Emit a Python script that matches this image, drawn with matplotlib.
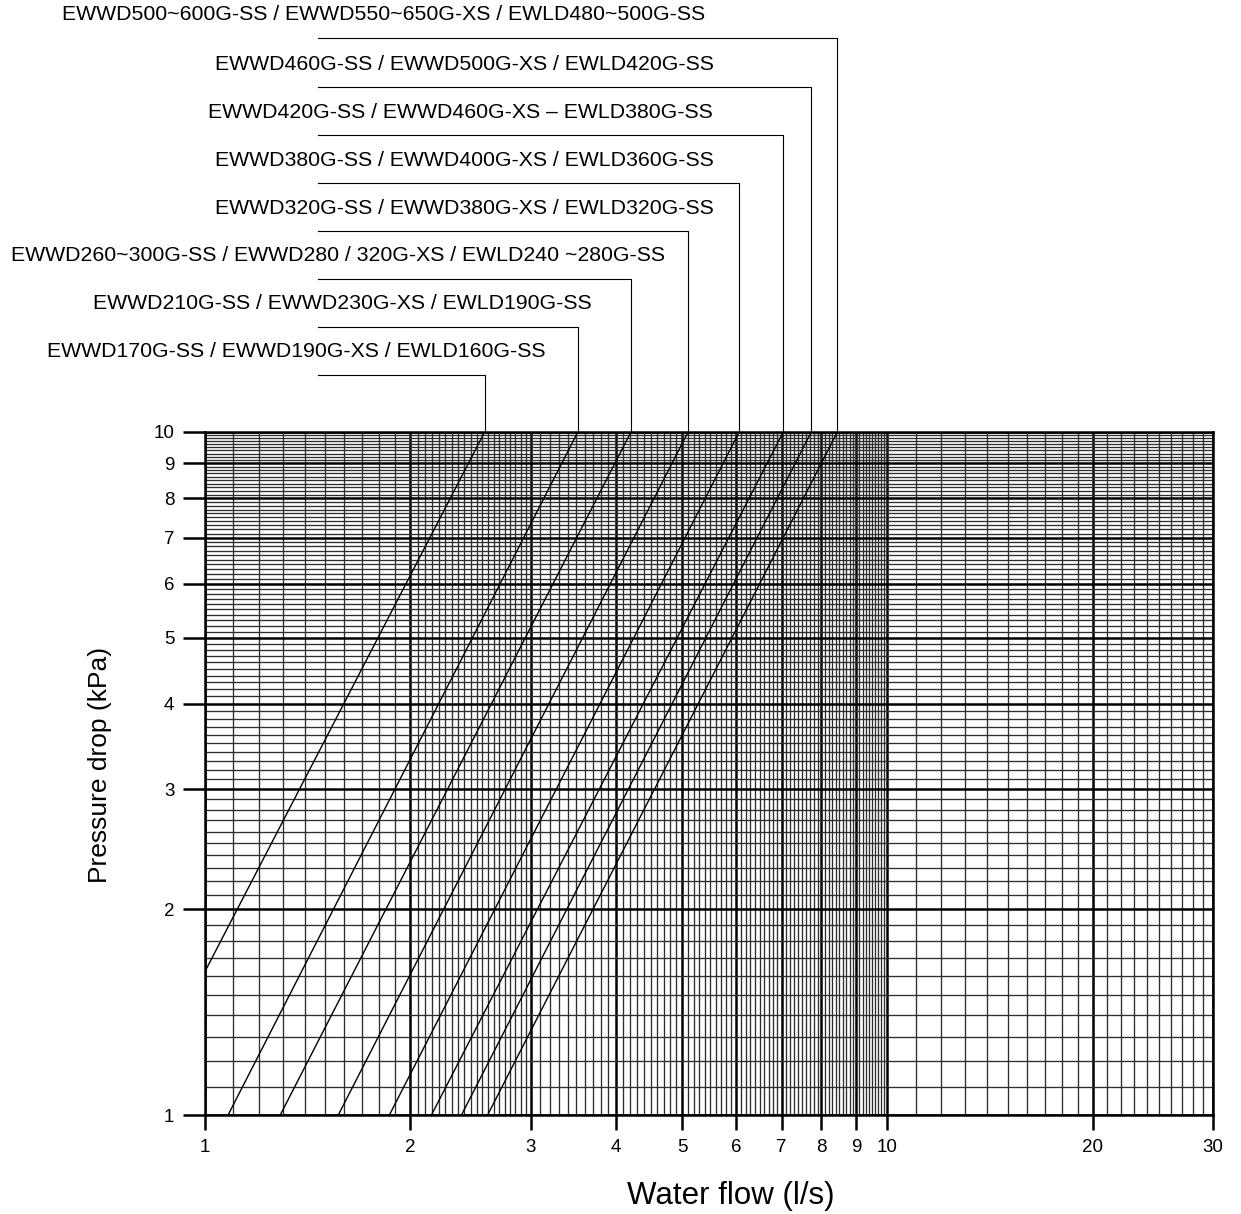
import matplotlib.pyplot as plt
from matplotlib.ticker import FixedLocator, NullFormatter
import numpy as np

plt.rcParams['font.family'] = ['Liberation Sans', 'DejaVu Sans']

# model groups (bottom label = leftmost curve)
models = [
    'EWWD170G-SS / EWWD190G-XS / EWLD160G-SS',
    'EWWD210G-SS / EWWD230G-XS / EWLD190G-SS',
    'EWWD260~300G-SS / EWWD280 / 320G-XS / EWLD240 ~280G-SS',
    'EWWD320G-SS / EWWD380G-XS / EWLD320G-SS',
    'EWWD380G-SS / EWWD400G-XS / EWLD360G-SS',
    'EWWD420G-SS / EWWD460G-XS \u2013 EWLD380G-SS',
    'EWWD460G-SS / EWWD500G-XS / EWLD420G-SS',
    'EWWD500~600G-SS / EWWD550~650G-XS / EWLD480~500G-SS',
]
# water flow (l/s) read at 1 kPa and at 10 kPa
flow_at_1kpa = [0.778, 1.081, 1.289, 1.568, 1.863, 2.147, 2.376, 2.595]
flow_at_10kpa = [2.569, 3.518, 4.209, 5.103, 6.064, 7.036, 7.733, 8.446]
pressure_ends = [1, 10]

x_ticks = [1, 2, 3, 4, 5, 6, 7, 8, 9, 10, 20, 30]
y_ticks = [1, 2, 3, 4, 5, 6, 7, 8, 9, 10]

W, H = 1241, 1214
fig = plt.figure(figsize=(W / 100, H / 100), dpi=100)
ax = fig.add_axes([205 / W, 1 - 1115 / H, 1008 / W, 683 / H])
ax.set_xscale('log')
ax.set_yscale('log')
ax.set_xlim(1, 30)
ax.set_ylim(1, 10)

# graph paper grid
def steps(a, b, s):
    v = np.round(np.arange(a, b + s / 2, s), 3)
    return [t for t in v if not np.isclose(t, np.round(t))]

x_minor = steps(1, 2, 0.1) + steps(2, 3, 0.05) + steps(3, 10, 0.1) + [t for t in range(11, 30) if t != 20]
y_minor = steps(1, 10, 0.1)

ax.xaxis.set_major_locator(FixedLocator(x_ticks))
ax.yaxis.set_major_locator(FixedLocator(y_ticks))
ax.xaxis.set_minor_locator(FixedLocator(x_minor))
ax.yaxis.set_minor_locator(FixedLocator(y_minor))
ax.xaxis.set_minor_formatter(NullFormatter())
ax.yaxis.set_minor_formatter(NullFormatter())
ax.set_xticklabels([str(t) for t in x_ticks])
ax.set_yticklabels([str(t) for t in y_ticks])

ax.set_axisbelow(True)
ax.grid(which='minor', color='0.18', linewidth=0.95)
ax.grid(which='major', color='black', linewidth=1.8)
ax.tick_params(which='minor', length=0)
ax.tick_params(axis='x', which='major', length=11, width=1.8, pad=6, labelsize=13.5)
ax.tick_params(axis='y', which='major', length=16, width=1.8, pad=6, labelsize=13.5)
for s in ax.spines.values():
    s.set_linewidth(1.8)

for q1, q10 in zip(flow_at_1kpa, flow_at_10kpa):
    ax.plot([q1, q10], pressure_ends, color='black', linewidth=1.0)

# leader lines to labels
conn_y_px = [375, 327, 279, 231, 183, 135, 87, 38]
label_x_px = [47, 93, 11, 215, 215, 208, 215, 62]
trans = ax.get_xaxis_transform()
x_start = 10 ** ((318 - 205) / 1008 * np.log10(30))
for name, q10, cy, lx in zip(models, flow_at_10kpa, conn_y_px, label_x_px):
    yf = (1115 - cy) / 683
    ax.plot([x_start, q10, q10], [yf, yf, 1], color='black', linewidth=0.8,
            transform=trans, clip_on=False)
    fig.text(lx / W, 1 - (cy - 23) / H, name, ha='left', va='center', fontsize=15.3)

fig.text(731 / W, 1 - 1196 / H, 'Water flow (l/s)', ha='center', va='center', fontsize=22.5)
fig.text(100 / W, 1 - 765 / H, 'Pressure drop (kPa)', ha='center', va='center',
         rotation=90, fontsize=19)

fig.savefig('out.png', dpi=100)
plt.close(fig)
